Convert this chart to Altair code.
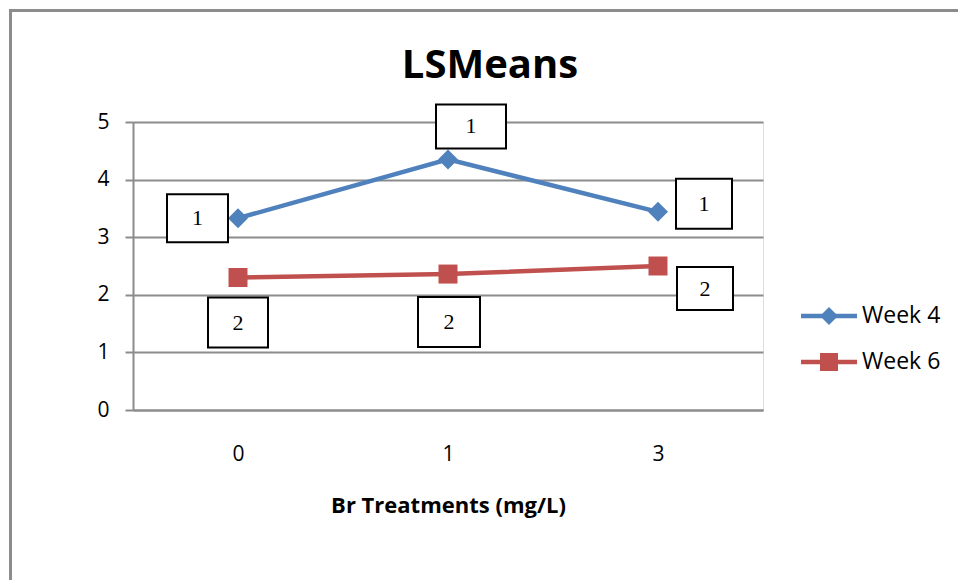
import altair as alt
import pandas as pd

# LSMeans of the two sampling weeks by Br treatment
categories = ["0", "1", "3"]
series_names = ["Week 4", "Week 6"]
week4 = [3.33, 4.35, 3.44]
week6 = [2.30, 2.36, 2.50]
week4_group = ["1", "1", "1"]
week6_group = ["2", "2", "2"]

colors = ["#4F81BD", "#C0504D"]
markers = ["diamond", "square"]

# plot area size in pixels
W, H = 630, 288
PX_X = W / 3.0   # pixels per category step
PX_Y = H / 5.0   # pixels per unit on the y axis

# group-label boxes: pixel offsets (left, right, top, bottom) from each point
box_offsets = {
    "Week 4": [(-71, -10, -24, 24), (-12, 58, -55, -11), (18, 74, -33, 17)],
    "Week 6": [(-30, 30, 20, 70), (-30, 32, 23, 73), (19, 75, 1, 44)],
}

rows = []
for name, vals, grp in [("Week 4", week4, week4_group), ("Week 6", week6, week6_group)]:
    for i, (c, v, g) in enumerate(zip(categories, vals, grp)):
        l, r, t, b = box_offsets[name][i]
        rows.append({
            "series": name, "idx": i, "cat": c, "value": v, "group": g,
            "bx0": i + l / PX_X, "bx1": i + r / PX_X,
            "by0": v - t / PX_Y, "by1": v - b / PX_Y,
            "bxc": i + (l + r) / 2 / PX_X, "byc": v - (t + b) / 2 / PX_Y,
        })
df = pd.DataFrame(rows)
legend_df = pd.DataFrame({"series": series_names})

FONT = "Open Sans"
GRID = "#8C8C8C"

x_scale = alt.Scale(domain=[-0.5, 2.5], nice=False, zero=False)
y_scale = alt.Scale(domain=[0, 5], nice=False)
color_scale = alt.Scale(domain=series_names, range=colors)

x_enc = alt.X(
    "idx:Q", scale=x_scale,
    axis=alt.Axis(
        title="Br Treatments (mg/L)", values=[0, 1, 2],
        labelExpr="['0','1','3'][datum.value]",
        grid=False, ticks=False, domainColor=GRID, domainWidth=2,
        labelFont=FONT, labelFontSize=21, labelColor="#000000", labelPadding=33,
        titleFont=FONT, titleFontSize=22, titleFontWeight="bold", titleColor="#000000",
        titlePadding=31,
    ),
)
y_enc = alt.Y(
    "value:Q", scale=y_scale,
    axis=alt.Axis(
        title=None, values=[0, 1, 2, 3, 4, 5], format="d",
        grid=True, gridColor=GRID, gridWidth=2,
        domainColor=GRID, domainWidth=2, tickColor=GRID, tickWidth=2, tickSize=8,
        labelFont=FONT, labelFontSize=21, labelColor="#000000", labelPadding=16,
    ),
)

color_enc = alt.Color("series:N", scale=color_scale, legend=None)

base = alt.Chart(df)

lines = base.mark_line(strokeWidth=4.5).encode(x=x_enc, y=y_enc, color=color_enc, detail="series:N")

pts4 = base.transform_filter("datum.series === 'Week 4'").mark_point(
    shape="diamond", filled=True, size=400, opacity=1
).encode(x="idx:Q", y="value:Q", color=color_enc)

pts6 = base.transform_filter("datum.series === 'Week 6'").mark_point(
    shape="square", filled=True, size=361, opacity=1
).encode(x="idx:Q", y="value:Q", color=color_enc)

boxes = base.mark_rect(fill="white", stroke="black", strokeWidth=2).encode(
    x="bx0:Q", x2="bx1:Q", y="by0:Q", y2="by1:Q"
)

box_text = base.mark_text(font="Liberation Serif", fontSize=22, color="black").encode(
    x="bxc:Q", y="byc:Q", text="group:N"
)

# series key on the right: line sample, marker and name for each week
LEG_X0, LEG_X1, LEG_ROW0, LEG_ROW_STEP = 668, 724, 194, 46
legend_layers = []
for k, (name, shape) in enumerate(zip(series_names, markers)):
    yk = LEG_ROW0 + k * LEG_ROW_STEP
    entry = alt.Chart(legend_df).transform_filter(alt.datum.series == name)
    legend_layers += [
        entry.mark_rule(strokeWidth=4.5).encode(
            x=alt.value(LEG_X0), x2=alt.value(LEG_X1), y=alt.value(yk), color=color_enc
        ),
        entry.mark_point(shape=shape, filled=True, size=324, opacity=1).encode(
            x=alt.value((LEG_X0 + LEG_X1) / 2), y=alt.value(yk), color=color_enc
        ),
        entry.mark_text(align="left", baseline="middle", font=FONT, fontSize=23,
                        color="#000000").encode(
            x=alt.value(LEG_X1 + 5), y=alt.value(yk), text="series:N"
        ),
    ]

# outer chart frame (left and top edges)
frame_left = alt.Chart(pd.DataFrame({"k": [0]})).mark_rule(color=GRID, strokeWidth=3).encode(
    x=alt.value(-122.5), y=alt.value(-113), y2=alt.value(470)
)
frame_top = alt.Chart(pd.DataFrame({"k": [0]})).mark_rule(color=GRID, strokeWidth=3).encode(
    x=alt.value(-124), x2=alt.value(830), y=alt.value(-111.5)
)

chart = alt.layer(
    frame_left, frame_top, lines, pts4, pts6, boxes, box_text, *legend_layers
).properties(
    width=W, height=H,
    title=alt.TitleParams(
        "LSMeans", font=FONT, fontSize=40, fontWeight="bold", color="#000000",
        anchor="middle", baseline="alphabetic", dx=42, offset=20, dy=130,
    ),
    autosize=alt.AutoSizeParams(type="none"),
    padding={"left": 133, "top": 122, "right": 195, "bottom": 170},
).configure_view(stroke=None).configure(background="white")

chart.save("out.html", embed_options={"renderer": "svg", "actions": False})
